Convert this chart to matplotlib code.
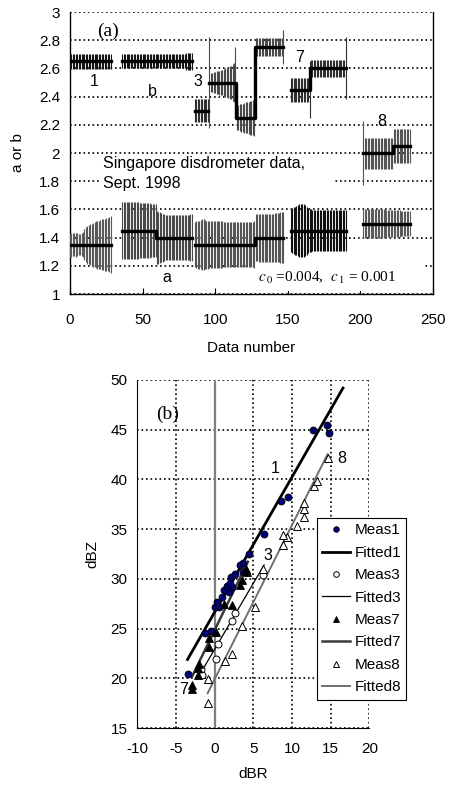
import matplotlib
matplotlib.use('Agg')
import matplotlib.pyplot as plt
from matplotlib.patches import Rectangle

plt.rcParams['font.family'] = ['Liberation Sans', 'DejaVu Sans']
plt.rcParams['mathtext.fontset'] = 'stix'
plt.rcParams['axes.unicode_minus'] = False

# ---------------- panel (a) data ----------------
# fitted b value on each run of data numbers: (first, last, value)
b_segments = [(0, 28, 2.65), (36, 84, 2.65), (86, 95, 2.30), (96, 114, 2.50),
              (115, 127, 2.25), (128, 147, 2.75), (152, 165, 2.45), (166, 190, 2.60),
              (202, 222, 2.00), (223, 234, 2.05)]
b_groups = [(0, 28), (36, 84), (86, 95), (96, 147), (152, 190), (202, 234)]
b_err = [
    [0.055, 0.055, 0.055, 0.055, 0.055, 0.055, 0.055, 0.055, 0.055, 0.055,
     0.055, 0.055, 0.055, 0.055, 0.055, 0.055, 0.055, 0.055, 0.055, 0.055,
     0.055, 0.055, 0.055, 0.055, 0.055, 0.055, 0.055, 0.055, 0.055],
    [0.05, 0.05, 0.05, 0.05, 0.05, 0.05, 0.05, 0.05, 0.05, 0.05,
     0.05, 0.05, 0.05, 0.05, 0.05, 0.05, 0.05, 0.05, 0.05, 0.05,
     0.05, 0.05, 0.05, 0.05, 0.05, 0.05, 0.05, 0.05, 0.05, 0.05,
     0.05, 0.05, 0.05, 0.05, 0.05, 0.05, 0.05, 0.05, 0.05, 0.05,
     0.05, 0.05, 0.05, 0.05, 0.06, 0.06, 0.06, 0.06, 0.06],
    [0.08, 0.08, 0.08, 0.08, 0.08, 0.08, 0.08, 0.08, 0.08, 0.08],
    [0.32,
     0.07, 0.07, 0.075, 0.075, 0.08, 0.08, 0.085, 0.09, 0.09, 0.095,
     0.10, 0.10, 0.11, 0.115, 0.12, 0.13, 0.14,
     0.25,
     0.09, 0.09, 0.095, 0.10, 0.10, 0.105, 0.11, 0.11, 0.115, 0.12,
     0.12, 0.125, 0.13,
     0.065, 0.065, 0.065, 0.065, 0.065, 0.065, 0.065, 0.065, 0.065, 0.065,
     0.065, 0.065, 0.065, 0.065, 0.065, 0.065, 0.065, 0.065, 0.065,
     0.12],
    [0.085, 0.085, 0.085, 0.085, 0.085, 0.085, 0.085, 0.085, 0.085, 0.085,
     0.085, 0.085, 0.085,
     0.20,
     0.06, 0.06, 0.06, 0.06, 0.06, 0.06, 0.06, 0.06, 0.06, 0.06,
     0.06, 0.06, 0.06, 0.06, 0.06, 0.06, 0.06, 0.06, 0.06, 0.06,
     0.06, 0.06, 0.06, 0.06,
     0.22],
    [0.23,
     0.11, 0.11, 0.11, 0.11, 0.11, 0.11, 0.11, 0.11, 0.11, 0.11,
     0.11, 0.11, 0.11, 0.11, 0.11, 0.11, 0.11, 0.11, 0.11, 0.11,
     0.12, 0.12, 0.12, 0.12, 0.12, 0.12, 0.12, 0.12, 0.12, 0.12,
     0.12, 0.12],
]

a_segments = [(0, 28, 1.35), (36, 59, 1.45), (60, 84, 1.40), (86, 127, 1.35),
              (128, 147, 1.40), (152, 190, 1.45), (202, 234, 1.50)]
a_groups = [(0, 28), (36, 84), (86, 147), (152, 190), (202, 234)]
a_err = [
    [0.085, 0.085, 0.08, 0.08, 0.085, 0.08, 0.075, 0.075, 0.08, 0.09,
     0.11, 0.125, 0.135, 0.14, 0.145, 0.15, 0.155, 0.16, 0.165, 0.17,
     0.17, 0.175, 0.18, 0.18, 0.185, 0.19, 0.19, 0.195, 0.20],
    [0.20, 0.205, 0.205, 0.20, 0.20, 0.20, 0.20, 0.20, 0.20, 0.20,
     0.20, 0.20, 0.195, 0.195, 0.195, 0.195, 0.195, 0.195, 0.195, 0.195,
     0.19, 0.19, 0.19, 0.19,
     0.19, 0.185, 0.18, 0.175, 0.17, 0.165, 0.16, 0.16, 0.16, 0.16,
     0.16, 0.16, 0.16, 0.16, 0.16, 0.16, 0.16, 0.16, 0.16, 0.16,
     0.16, 0.16, 0.16, 0.165, 0.165],
    [0.16, 0.165, 0.17, 0.17, 0.175, 0.18, 0.18, 0.175, 0.17, 0.17,
     0.165, 0.165, 0.165, 0.165, 0.165, 0.165, 0.165, 0.165, 0.165, 0.165,
     0.16, 0.16, 0.16, 0.16, 0.16, 0.16, 0.16, 0.16, 0.16, 0.16,
     0.16, 0.16, 0.16, 0.16, 0.16, 0.16, 0.16, 0.16, 0.16, 0.16,
     0.16, 0.165,
     0.165, 0.165, 0.17, 0.17, 0.17, 0.17, 0.17, 0.17, 0.17, 0.17,
     0.17, 0.17, 0.17, 0.175, 0.175, 0.175, 0.175, 0.18, 0.18, 0.18],
    [0.155, 0.16, 0.165, 0.17, 0.175,
     0.18, 0.185, 0.19, 0.19, 0.185, 0.18, 0.17,
     0.16, 0.155, 0.15, 0.145, 0.145, 0.145, 0.145, 0.145, 0.145, 0.145,
     0.145, 0.145, 0.145, 0.145, 0.145, 0.145, 0.145, 0.145, 0.145, 0.145,
     0.145, 0.145, 0.145, 0.145, 0.145, 0.145, 0.145],
    [0.10, 0.10, 0.10, 0.10, 0.10, 0.10, 0.10, 0.10, 0.10, 0.10,
     0.10, 0.10, 0.10, 0.10, 0.10, 0.10,
     0.095, 0.095, 0.095, 0.095, 0.095, 0.095, 0.095, 0.095, 0.095, 0.095,
     0.09, 0.09, 0.09, 0.09, 0.09, 0.09, 0.09],
]

# ---------------- panel (b) data ----------------
meas1_dbr = [-3.5, -1.2, -0.5, 0.0, 0.6, 0.3, 1.0, 1.8, 1.2, 2.2, 1.6, 2.0,
             2.1, 2.7, 3.7, 3.3, 3.7, 4.4, 6.4, 8.6, 9.5, 12.7, 14.5, 14.8]
meas1_dbz = [20.4, 24.6, 24.8, 27.2, 27.2, 27.7, 28.2, 28.7, 28.9, 29.2, 29.3, 29.6,
             30.2, 30.5, 30.7, 31.4, 31.6, 32.5, 34.5, 37.8, 38.2, 45.0, 45.5, 44.7]
meas3_dbr = [-1.6, -1.7, 0.2, 0.5, 2.3, 2.7, 6.2]
meas3_dbz = [20.3, 20.9, 21.9, 23.5, 25.8, 26.6, 30.4]
meas7_dbr = [-2.9, -2.9, -2.2, -2.1, -2.0, -0.7, -0.7, 0.2, 1.2, 2.3, 3.3, 3.6, 4.2, 4.0]
meas7_dbz = [18.9, 19.3, 20.3, 21.0, 21.4, 23.1, 24.1, 24.7, 27.5, 27.4, 29.4, 29.9, 30.7, 31.0]
meas8_dbr = [-0.9, -0.8, 1.3, 2.2, 3.6, 5.2, 6.3, 8.8, 9.3, 8.9, 10.6, 11.5, 11.6, 11.5,
             12.9, 13.3, 14.7]
meas8_dbz = [17.5, 19.9, 21.7, 22.4, 25.3, 27.2, 31.0, 33.4, 34.2, 34.4, 35.3, 36.2, 37.0,
             37.6, 39.3, 39.8, 42.2]

# fitted lines dBZ = A + B * dBR over [xmin, xmax]
fit_A = [26.65, 22.92, 24.84, 19.90]
fit_B = [1.358, 1.325, 1.60, 1.55]
fit_xmin = [-3.5, -1.9, -2.9, -0.9]
fit_xmax = [16.6, 6.4, 4.3, 14.6]


def fitted_values(segments):
    vals = {}
    for first, last, v in segments:
        for n in range(first, last + 1):
            vals[n] = v
    return vals


fig = plt.figure(figsize=(4.51, 7.91), dpi=100)
dots = (0, (1.0, 1.7))

# ---------------- panel (a) ----------------
ax1 = fig.add_axes([0.155, 0.6283, 0.805, 0.3565])
b_vals = fitted_values(b_segments)
a_vals = fitted_values(a_segments)
b_cols = ['#151515', '#151515', '#303030', '#4a4a4a', '#303030', '#555555']
a_cols = ['#5a5a5a', '#4a4a4a', '#555555', '#111111', '#5a5a5a']

for (first, last), errs, col in zip(b_groups, b_err, b_cols):
    xs = list(range(first, last + 1))
    ys = [b_vals[n] for n in xs]
    ax1.vlines(xs, [y - e for y, e in zip(ys, errs)], [y + e for y, e in zip(ys, errs)],
               color=col, lw=0.8, zorder=3)
    ax1.plot(xs, ys, drawstyle='steps-mid', color='black', lw=2.4, zorder=4)

for (first, last), errs, col in zip(a_groups, a_err, a_cols):
    xs = list(range(first, last + 1))
    ys = [a_vals[n] for n in xs]
    ax1.vlines(xs, [y - e for y, e in zip(ys, errs)], [y + e for y, e in zip(ys, errs)],
               color=col, lw=0.8, zorder=3)
    ax1.plot(xs, ys, drawstyle='steps-mid', color='black', lw=2.4, zorder=4)

ax1.set_xlim(0, 250)
ax1.set_ylim(1, 3)
ax1.set_xticks([0, 50, 100, 150, 200, 250])
ax1.set_yticks([1, 1.2, 1.4, 1.6, 1.8, 2, 2.2, 2.4, 2.6, 2.8, 3])
ax1.set_yticklabels(['1', '1.2', '1.4', '1.6', '1.8', '2', '2.2', '2.4', '2.6', '2.8', '3'])
ax1.yaxis.grid(True, linestyle=dots, color='black', lw=1.2)
ax1.set_axisbelow(True)
ax1.spines['top'].set_visible(False)
for s in ['left', 'right', 'bottom']:
    ax1.spines[s].set_linewidth(1.0)
ax1.tick_params(axis='x', direction='in', length=4, labelsize=11, pad=14)
ax1.tick_params(axis='y', length=0, labelsize=11, pad=7)
ax1.set_xlabel('Data number', fontsize=11, labelpad=10)
ax1.set_ylabel('a or b', fontsize=11, labelpad=10)

ax1.add_patch(Rectangle((0.083, 0.335), 0.642, 0.155, transform=ax1.transAxes,
                        facecolor='white', edgecolor='none', zorder=2))
ax1.add_patch(Rectangle((0.51, 0.012), 0.468, 0.11, transform=ax1.transAxes,
                        facecolor='white', edgecolor='none', zorder=2))
ax1.text(22.5, 1.855, 'Singapore disdrometer data,\nSept. 1998', fontsize=11.5,
         ha='left', va='center', linespacing=1.35, zorder=5)
ax1.text(129.5, 1.115, r'$c_{\,0}$ =0.004,  $c_{\,1}$ = 0.001', fontsize=11,
         family='Liberation Serif', ha='left', va='center', zorder=5)
ax1.text(19, 2.86, '(a)', fontsize=14, family='Liberation Serif', ha='left', va='center')
for lab, x, y in [('1', 16.7, 2.505), ('b', 57, 2.435), ('3', 88, 2.505),
                  ('7', 158.4, 2.68), ('8', 214.7, 2.22), ('a', 66.6, 1.12)]:
    ax1.text(x, y, lab, fontsize=11.5, ha='center', va='center', zorder=5)

# ---------------- panel (b) ----------------
ax2 = fig.add_axes([0.3044, 0.0796, 0.5144, 0.44])
ax2.axvline(0, color='#808080', lw=1.6, zorder=1.6)

ax2.plot(meas1_dbr, meas1_dbz, 'o', ms=5, mfc='#00007a', mec='black', mew=0.6,
         label='Meas1', zorder=5)
ax2.plot([fit_xmin[0], fit_xmax[0]],
         [fit_A[0] + fit_B[0] * fit_xmin[0], fit_A[0] + fit_B[0] * fit_xmax[0]],
         color='black', lw=2.0, label='Fitted1', zorder=4)
ax2.plot(meas3_dbr, meas3_dbz, 'o', ms=5, mfc='white', mec='black', mew=0.7,
         label='Meas3', zorder=5)
ax2.plot([fit_xmin[1], fit_xmax[1]],
         [fit_A[1] + fit_B[1] * fit_xmin[1], fit_A[1] + fit_B[1] * fit_xmax[1]],
         color='black', lw=0.9, label='Fitted3', zorder=4)
ax2.plot(meas7_dbr, meas7_dbz, '^', ms=6, mfc='black', mec='black', mew=0.6,
         label='Meas7', zorder=5)
ax2.plot([fit_xmin[2], fit_xmax[2]],
         [fit_A[2] + fit_B[2] * fit_xmin[2], fit_A[2] + fit_B[2] * fit_xmax[2]],
         color='#3a3a3a', lw=1.8, label='Fitted7', zorder=4)
ax2.plot(meas8_dbr, meas8_dbz, '^', ms=6, mfc='white', mec='black', mew=0.7,
         label='Meas8', zorder=5)
ax2.plot([fit_xmin[3], fit_xmax[3]],
         [fit_A[3] + fit_B[3] * fit_xmin[3], fit_A[3] + fit_B[3] * fit_xmax[3]],
         color='#707070', lw=1.4, label='Fitted8', zorder=4)

ax2.set_xlim(-10, 20)
ax2.set_ylim(15, 50)
ax2.set_xticks([-10, -5, 0, 5, 10, 15, 20])
ax2.set_yticks([15, 20, 25, 30, 35, 40, 45, 50])
ax2.grid(True, linestyle=dots, color='black', lw=1.2)
ax2.set_axisbelow(True)
ax2.spines['top'].set_visible(False)
ax2.spines['right'].set_visible(False)
ax2.tick_params(length=0, labelsize=11)
ax2.tick_params(axis='x', pad=10)
ax2.tick_params(axis='y', pad=7)
ax2.set_xlabel('dBR', fontsize=11, labelpad=8)
ax2.set_ylabel('dBZ', fontsize=11, labelpad=8)

ax2.text(-7.6, 46.5, '(b)', fontsize=14, family='Liberation Serif', ha='left', va='center')
for lab, x, y in [('1', 7.8, 41.1), ('8', 16.4, 42.1), ('3', 6.9, 32.4), ('7', -4.05, 18.9)]:
    ax2.text(x, y, lab, fontsize=11.5, ha='center', va='center', zorder=6)

leg = ax2.legend(loc='upper left', bbox_to_anchor=(0.703, 0.345),
                 bbox_transform=fig.transFigure, borderaxespad=0, fancybox=False,
                 edgecolor='black', framealpha=1, fontsize=11, numpoints=1,
                 handlelength=1.8, handletextpad=0.3, labelspacing=0.55,
                 borderpad=0.35, markerscale=0.8)
leg.get_frame().set_linewidth(0.8)
leg.set_zorder(10)

fig.savefig('out.png', dpi=100)
